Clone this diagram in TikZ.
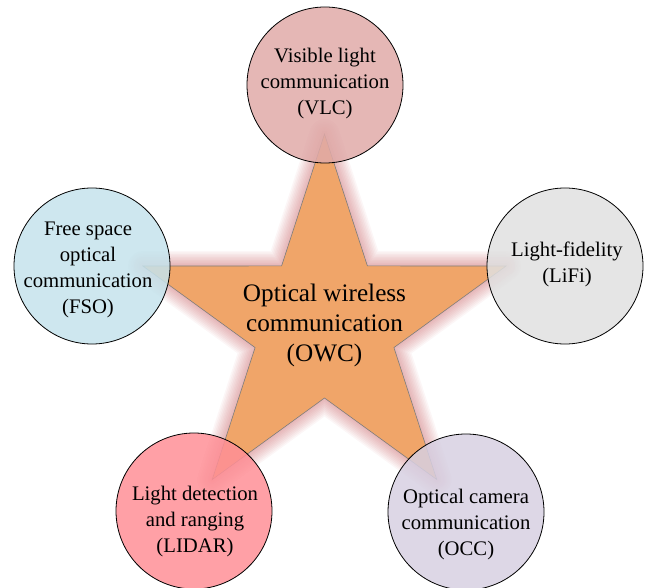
\documentclass[tikz,border=0pt]{standalone}
\usepackage{fontspec}
\setmainfont{Liberation Serif}
\usetikzlibrary{calc}
\definecolor{vlcc}{RGB}{224,170,168}
\definecolor{fsoc}{RGB}{197,227,236}
\definecolor{lific}{RGB}{224,224,224}
\definecolor{lidarc}{RGB}{255,143,150}
\definecolor{occc}{RGB}{215,208,226}
\definecolor{starc}{RGB}{240,165,105}
\definecolor{stargray}{RGB}{125,125,125}
\definecolor{glowc}{RGB}{185,55,60}
\begin{document}
\begin{tikzpicture}[x=1pt,y=1pt,
  bubble/.style={circle, draw=black, line width=0.8pt, minimum size=156pt, inner sep=0pt, fill opacity=0.85},
  lbl/.style={font=\fontsize{20.7}{26}\selectfont, align=center, text=black, inner sep=0pt},
  biglbl/.style={font=\fontsize{25.2}{30}\selectfont, align=center, text=black, inner sep=0pt},
  starshape/.style={insert path={(o0)--(i0)--(o1)--(i1)--(o2)--(i2)--(o3)--(i3)--(o4)--(i4)--cycle}}]
\useasboundingbox (0,0) rectangle (647,587);
\coordinate (c) at (324.5,262);
\foreach \k in {0,...,4}{
  \coordinate (o\k) at ($(c)+({90+72*\k}:191)$);
  \coordinate (i\k) at ($(c)+({126+72*\k}:73)$);
}
% glow
\foreach \w in {3,6,...,30}{
  \path[draw=glowc, line width=\w pt, draw opacity=0.045, line join=round, starshape];
}
% star
\path[fill=starc, draw=stargray, line width=0.6pt, line join=miter, starshape];
% circles
\node[bubble, fill=vlcc] (vlc) at (325,502) {};
\node[bubble, fill=fsoc] (fso) at (92,321) {};
\node[bubble, fill=lific] (lifi) at (565,321) {};
\node[bubble, fill=lidarc] (lidar) at (194,76) {};
\node[bubble, fill=occc] (occ) at (466,75) {};
% labels
\node[lbl] (vlct) at (325,503.5) {Visible light\\communication\\(VLC)};
\node[lbl] (fsot) at (88,317.5) {Free space\\optical\\communication\\(FSO)};
\node[lbl] (lifit) at (567,322.5) {Light-fidelity\\(LiFi)};
\node[lbl] (lidart) at (195,65.5) {Light detection\\and ranging\\(LIDAR)};
\node[lbl] (occt) at (466,62) {Optical camera\\communication\\(OCC)};
\node[biglbl] (owct) at (324.5,262) {Optical wireless\\communication\\(OWC)};
\end{tikzpicture}
\end{document}
